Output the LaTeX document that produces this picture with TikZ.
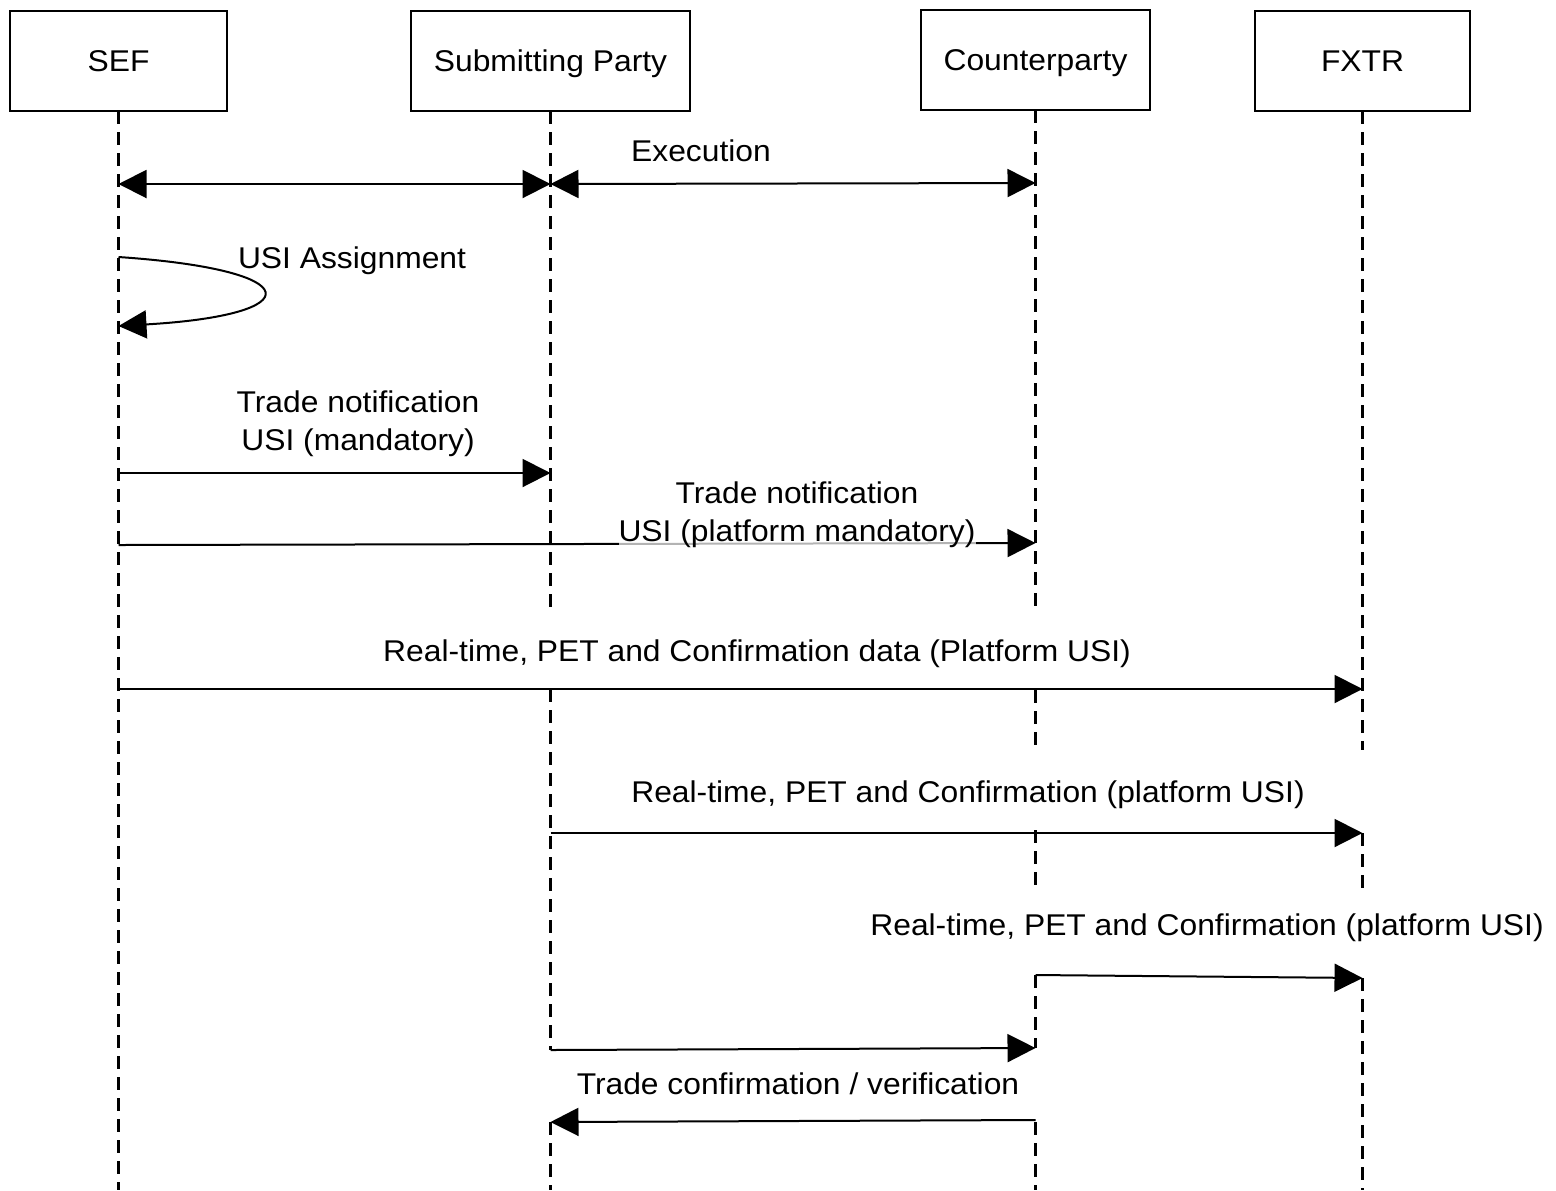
\documentclass[tikz,border=0pt]{standalone}
\usepackage{fontspec}
\setmainfont[FakeStretch=1.06]{Liberation Sans}
\usetikzlibrary{arrows.meta, positioning}

\begin{document}
\begin{tikzpicture}[x=0.5pt, y=-0.5pt,
    actor/.style={draw=black, line width=0.75pt, minimum height=50pt, text height=10.7pt, text depth=0pt, font=\fontsize{15}{19}\selectfont},
    lifeline/.style={line width=1.25pt, dash pattern=on 6.5pt off 4pt},
    msg/.style={line width=1pt, -{Triangle[length=14pt, width=14pt]}},
    dmsg/.style={line width=1pt, {Triangle[length=14pt, width=14pt]}-{Triangle[length=14pt, width=14pt]}},
    lbl/.style={anchor=north, inner sep=0pt, align=center, font=\fontsize{15}{19}\selectfont}]
    \useasboundingbox (0,0) rectangle (1556,1190);

    % actors
    \node[actor, minimum width=108.5pt] (sef) at (118.5,61) {SEF};
    \node[actor, minimum width=139.5pt] (sub) at (550.5,61) {Submitting Party};
    \node[actor, minimum width=114.5pt] (cpty) at (1035.5,60) {Counterparty};
    \node[actor, minimum width=107.5pt] (fxtr) at (1362.5,61) {FXTR};

    % lifelines (broken where the messages cross)
    \foreach \who/\from/\to in {sef/111/1190, sub/111/612, sub/689/1050, sub/1122/1190,
        cpty/110/612, cpty/690/750, cpty/830/888, cpty/975/1048, cpty/1122/1190,
        fxtr/111/750, fxtr/833/888, fxtr/978/1190}
        \draw[lifeline] (\who |- 0,\from) -- (\who |- 0,\to);

    % Execution
    \draw[dmsg] (sef |- 0,184) -- (sub |- 0,184);
    \draw[dmsg] (sub |- 0,184) -- (cpty |- 0,183);
    \node[lbl] (exec) at (701,139) {Execution};

    % USI assignment on the SEF
    \draw[msg] (sef |- 0,257) .. controls (310,270) and (310,315) .. (sef |- 0,326);
    \node[lbl] (usi) at (352,246) {USI Assignment};

    % trade notifications
    \draw[msg] (sef |- 0,473) -- (sub |- 0,473);
    \node[lbl] (tnsub) at (358,390) {Trade notification\\USI (mandatory)};
    \draw[msg] (sef |- 0,545) -- (cpty |- 0,543);
    \node[lbl, fill=white, fill opacity=0.7, text opacity=1] (tncpty) at (797,481) {Trade notification\\USI (platform mandatory)};

    % reporting to FXTR
    \draw[msg] (sef |- 0,689) -- (fxtr |- 0,689);
    \node[lbl] (rtsef) at (757,639) {Real-time, PET and Confirmation data (Platform USI)};
    \draw[msg] (sub |- 0,833) -- (fxtr |- 0,833);
    \node[lbl] (rtsub) at (968,780) {Real-time, PET and Confirmation (platform USI)};
    \draw[msg] (cpty |- 0,975) -- (fxtr |- 0,978);
    \node[lbl] (rtcpty) at (1207,913) {Real-time, PET and Confirmation (platform USI)};

    % confirmation
    \draw[msg] (sub |- 0,1050) -- (cpty |- 0,1048);
    \draw[msg] (cpty |- 0,1120) -- (sub |- 0,1122);
    \node[lbl] (conf) at (798,1072) {Trade confirmation / verification};
\end{tikzpicture}
\end{document}
